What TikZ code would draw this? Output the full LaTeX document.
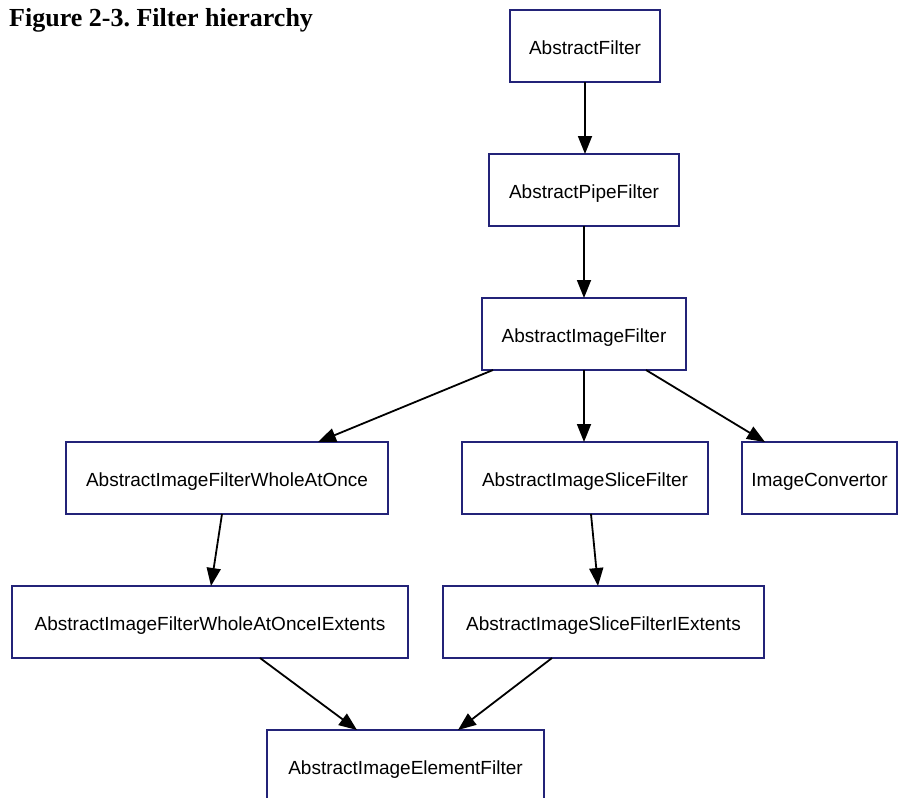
\documentclass[tikz,border=0pt]{standalone}
\usepackage{fontspec}
\setmainfont{Liberation Serif}
\newfontfamily\boxfont{Liberation Sans}
\usetikzlibrary{arrows.meta}
\definecolor{boxline}{RGB}{35,35,120}
\frenchspacing
\begin{document}
\begin{tikzpicture}[x=1pt,y=-1pt,
  cls/.style={draw=boxline, line width=1.4pt, rectangle, minimum height=72pt,
    inner sep=0pt, outer sep=0pt, text depth=0pt, text height=16pt,
    font=\boxfont\fontsize{19}{22}\selectfont},
  inh/.style={-{Triangle[length=18pt,width=14pt]}, line width=1.8pt, black}]
\useasboundingbox (0,0) rectangle (898,798);
\clip (0,0) rectangle (898,798);
\node[anchor=base west, inner sep=0pt, font=\bfseries\fontsize{26}{29}\selectfont] (title) at (9,26) {Figure 2-3. Filter hierarchy};

\node[cls, minimum width=150pt] (filt)  at (585,46)    {AbstractFilter};
\node[cls, minimum width=190pt] (pipe)  at (584,190)   {AbstractPipeFilter};
\node[cls, minimum width=204pt] (ifilt) at (584,334)   {AbstractImageFilter};
\node[cls, minimum width=322pt] (whole) at (227,478)   {AbstractImageFilterWholeAtOnce};
\node[cls, minimum width=246pt] (slice) at (585,478)   {AbstractImageSliceFilter};
\node[cls, minimum width=155pt] (conv)  at (819.5,478) {ImageConvertor};
\node[cls, minimum width=396pt] (wext)  at (210,622)   {AbstractImageFilterWholeAtOnceIExtents};
\node[cls, minimum width=321pt] (sext)  at (603.5,622) {AbstractImageSliceFilterIExtents};
\node[cls, minimum width=277pt] (elem)  at (405.5,766) {AbstractImageElementFilter};

\draw[inh] (filt.south) -- (pipe.north -| filt.south);
\draw[inh] (pipe.south) -- (ifilt.north -| pipe.south);
\draw[inh] ([xshift=-91pt]ifilt.south) -- ([xshift=91pt]whole.north);
\draw[inh] (ifilt.south) -- (slice.north -| ifilt.south);
\draw[inh] ([xshift=62pt]ifilt.south) -- ([xshift=-54.5pt]conv.north);
\draw[inh] ([xshift=-5pt]whole.south) -- ([xshift=1pt]wext.north);
\draw[inh] ([xshift=6pt]slice.south) -- ([xshift=-5.5pt]sext.north);
\draw[inh] ([xshift=50pt]wext.south) -- ([xshift=-48.5pt]elem.north);
\draw[inh] ([xshift=-51.5pt]sext.south) -- ([xshift=52.5pt]elem.north);
\end{tikzpicture}
\end{document}
